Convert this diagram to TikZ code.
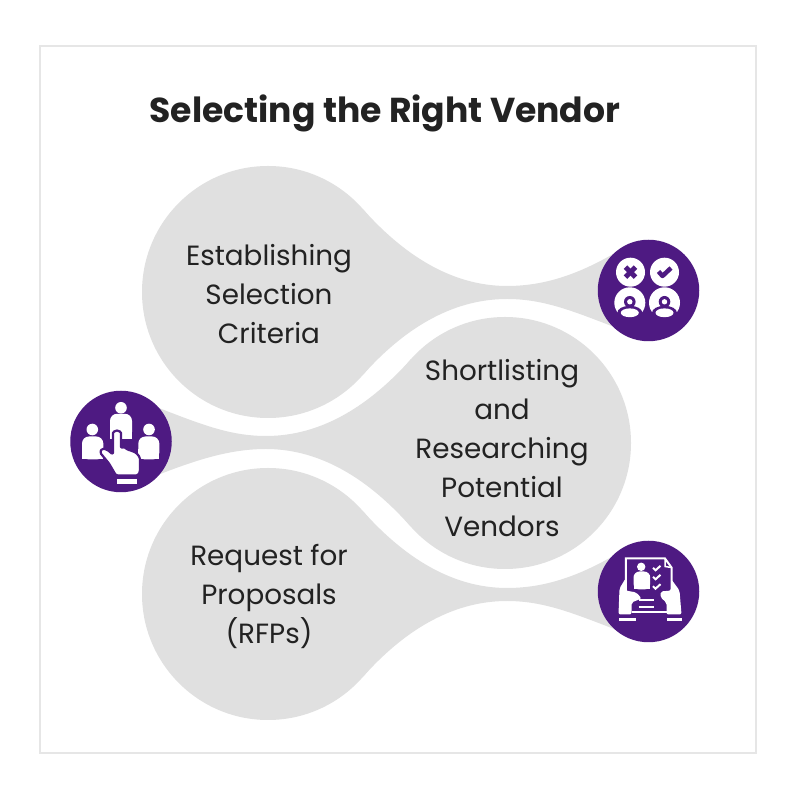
\documentclass[tikz,border=0pt]{standalone}
\usepackage{fontspec}
\setmainfont{Poppins}
\usetikzlibrary{positioning}
\definecolor{dropgrey}{HTML}{E0E0E0}
\definecolor{iconpurple}{HTML}{4E1A82}
\definecolor{framegrey}{HTML}{E6E6E6}
\definecolor{textdark}{HTML}{222222}
\begin{document}
\begin{tikzpicture}[
    x=1pt, y=1pt,
    drop_node/.style={circle, fill=dropgrey, minimum size=252pt, inner sep=0pt, outer sep=0pt},
    icon_node/.style={circle, fill=iconpurple, minimum size=101.5pt, inner sep=0pt, outer sep=0pt},
    label_node/.style={align=center, text=textdark, font=\fontsize{27.8}{39}\selectfont},
    title_node/.style={text=textdark, font=\fontsize{34.6}{42}\selectfont\bfseries},
    tail/.style={fill=dropgrey},
    white_part/.style={fill=white},
    cut_part/.style={fill=iconpurple},
    cut_line/.style={draw=iconpurple, line width=2pt, line join=round},
    white_line/.style={draw=white, line width=2pt}
    ]
    \useasboundingbox (0,0) rectangle (800,800);
    \fill[white] (0,0) rectangle (800,800);
    \draw[framegrey, line width=1.5pt] (40,47) rectangle (756,754);

    % Title
    \node[title_node] (title) at (385,687) {Selecting the Right Vendor};

    % Circles
    \node[drop_node] (criteria) at (268,508) {};
    \node[drop_node] (shortlist) at (505,357) {};
    \node[drop_node] (proposals) at (268,206) {};

    % Tails
    \fill[tail] (criteria.41.8) .. controls (402,547) and (450,514) .. (507,514)
        .. controls (545,514) and (580,526) .. (620,550) -- (622,470)
        .. controls (575,488) and (545,501) .. (507,501)
        .. controls (450,501) and (402,469) .. (criteria.-41.8) -- cycle;
    \fill[tail] (shortlist.221.8) .. controls (371,318) and (323,351) .. (266,351)
        .. controls (228,351) and (193,339) .. (150,322) -- (151,395)
        .. controls (198,377) and (228,364) .. (266,364)
        .. controls (323,364) and (371,396) .. (shortlist.138.2) -- cycle;
    \fill[tail] (proposals.41.8) .. controls (402,245) and (450,212) .. (507,212)
        .. controls (545,212) and (580,224) .. (620,248) -- (622,168)
        .. controls (575,186) and (545,199) .. (507,199)
        .. controls (450,199) and (402,167) .. (proposals.-41.8) -- cycle;

    % Labels
    \node[label_node] (criterialabel) at (269,506) {Establishing\\Selection\\Criteria};
    \node[label_node] (shortlistlabel) at (502,352) {Shortlisting\\and\\Researching\\Potential\\Vendors};
    \node[label_node] (proposalslabel) at (269,204) {Request for\\Proposals\\(RFPs)};

    % Icons
    \node[icon_node] (criteriaicon) at (648.5,509.5) {};
    \node[icon_node] (shortlisticon) at (121,358.5) {};
    \node[icon_node] (proposalsicon) at (648.5,208.5) {};

    % Icon: cross, check and two people
    \begin{scope}[shift={(criteriaicon)}]
        \fill[white_part] (-18,18.3) circle (14.5pt);
        \fill[white_part] (16,18.3) circle (14.5pt);
        \draw[cut_line, line width=5pt] (-23,13.3) -- (-13,23.3);
        \draw[cut_line, line width=5pt] (-23,23.3) -- (-13,13.3);
        \draw[cut_line, line width=4.5pt] (10,19) -- (14,14.5) -- (22.5,22.5);
        \foreach \px in {-18.7,16} {
            \begin{scope}[shift={(\px,-12.3)}]
                \fill[white_part] (0,0) circle (15.5pt);
                \fill[cut_part] (0,1) circle (5.8pt);
                \fill[white_part] (0,1) circle (2.7pt);
                \fill[cut_part] (0,-10) ellipse (12.5pt and 7pt);
                \fill[white_part] (0,-10) ellipse (9pt and 4.4pt);
            \end{scope}
        }
    \end{scope}

    % Icon: three people and a pointing hand
    \begin{scope}[shift={(shortlisticon)}]
        \fill[white_part] (0,33.7) circle (5.8pt);
        \fill[white_part] (-28.7,12) circle (5.8pt);
        \fill[white_part] (28,12) circle (5.8pt);
        \fill[white_part, rounded corners=7pt] (-11,2.7) -- (-11,27.7) -- (11,27.7) -- (11,2.7) -- cycle;
        \fill[white] (-11,2.7) rectangle (11,12);
        \fill[white_part, rounded corners=7pt] (-39,-18) -- (-39,5) -- (-17.7,5) -- (-17.7,-18) -- cycle;
        \fill[white] (-39,-18) rectangle (-17.7,-8);
        \fill[white_part, rounded corners=7pt] (17.3,-18) -- (17.3,5) -- (38.3,5) -- (38.3,-18) -- cycle;
        \fill[white] (17.3,-18) rectangle (38.3,-8);
        \draw[cut_line, white_part, line width=2.2pt, rounded corners=1.5pt]
            (-5,-34) -- (-12,-22) -- (-21,-11) -- (-19,-7) -- (-14,-8) -- (-8,-13)
            -- (-8,7) arc[start angle=180, end angle=0, radius=4pt]
            -- (0,-7) -- (3,-5) -- (6,-8) -- (10,-9) -- (12,-10) -- (15,-11) -- (19,-16)
            -- (19,-30) -- (17,-34) -- cycle;
        \fill[white_part] (-4,-37.5) rectangle (16,-42.3);
    \end{scope}

    % Icon: two hands holding a form
    \begin{scope}[shift={(proposalsicon)}]
        \draw[white_line] (-22.7,0) -- (-22.7,33) -- (16.5,33) -- (23,24) -- (23,0);
        \draw[white_line, line width=1.5pt] (16.5,33) -- (16.5,25) -- (23,24);
        \fill[white_part] (-7.3,24.7) circle (4.2pt);
        \fill[white_part, rounded corners=6pt] (-15,2) -- (-15,20) -- (1.7,20) -- (1.7,2) -- cycle;
        \fill[white] (-15,2) rectangle (1.7,9);
        \foreach \cy in {23.7,14.7,5.3} {
            \draw[white_line] (4.5,\cy) -- (7,\cy-2.5) -- (12,\cy+2);
        }
        \draw[white_line] (-10,-9) -- (5,-9);
        \draw[white_line] (-10,-15.3) -- (5,-15.3);
        \draw[white_line] (-17,-21) -- (18,-21);
        \fill[white_part, rounded corners=2pt] (-30,-23) -- (-29,3) -- (-23,13) -- (-23,1) -- (-12,-1) -- (-7,-7) -- (-17,-11) -- (-17,-23) -- cycle;
        \fill[white_part, rounded corners=2pt] (33,-23) -- (31,1) -- (23,12) -- (23,1) -- (12,0) -- (12,-6) -- (18,-11) -- (18,-23) -- cycle;
        \fill[white_part] (-30,-26.5) rectangle (-13,-29.5);
        \fill[white_part] (18,-26.5) rectangle (33,-29.5);
    \end{scope}
\end{tikzpicture}
\end{document}
